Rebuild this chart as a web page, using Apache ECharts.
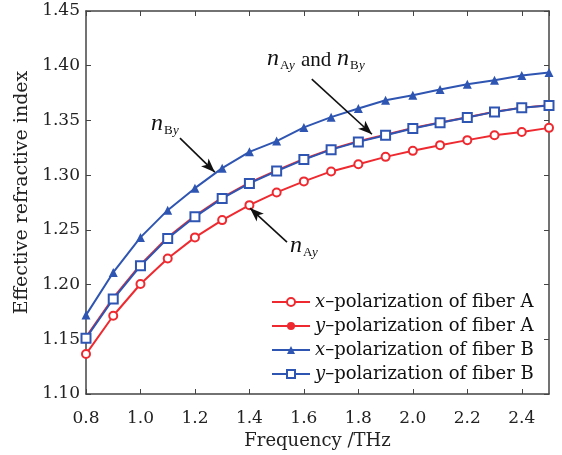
<!DOCTYPE html>
<html>
<head>
<meta charset="utf-8">
<script src="https://cdn.jsdelivr.net/npm/echarts@6/dist/echarts.min.js"></script>
<style>
  html, body { margin: 0; padding: 0; background: #fff; }
  #main { width: 562px; height: 455px; }
</style>
</head>
<body>
<div id="main"></div>
<script>
// frequency (THz)
var freq = [0.8, 0.9, 1.0, 1.1, 1.2, 1.3, 1.4, 1.5, 1.6, 1.7, 1.8, 1.9, 2.0, 2.1, 2.2, 2.3, 2.4, 2.5];

// effective refractive index
var xPolA = [1.1365, 1.1715, 1.2005, 1.2239, 1.2431, 1.2589, 1.2726, 1.2842, 1.2943, 1.3034,
  1.3100, 1.3167, 1.3222, 1.3274, 1.3320, 1.3365, 1.3395, 1.3432];
var yPolA = [1.1520, 1.1878, 1.2182, 1.2432, 1.2628, 1.2795, 1.2931, 1.3043, 1.3148, 1.3238,
  1.3309, 1.3370, 1.3430, 1.3482, 1.3530, 1.3580, 1.3617, 1.3639];
var xPolB = [1.1721, 1.2111, 1.2431, 1.2680, 1.2881, 1.3064, 1.3213, 1.3311, 1.3436, 1.3530,
  1.3609, 1.3685, 1.3731, 1.3783, 1.3831, 1.3868, 1.3910, 1.3938];
var yPolB = [1.1510, 1.1868, 1.2172, 1.2422, 1.2619, 1.2787, 1.2924, 1.3037, 1.3142, 1.3233,
  1.3304, 1.3365, 1.3426, 1.3478, 1.3527, 1.3578, 1.3615, 1.3637];

var seriesNames = ['x-polarization of fiber A', 'y-polarization of fiber A',
  'x-polarization of fiber B', 'y-polarization of fiber B'];

// annotation arrows [from, to] in data units
var arrowBy = [[1.145, 1.3338], [1.273, 1.3027]];
var arrowBoth = [[1.629, 1.3877], [1.850, 1.3374]];
var arrowAy = [[1.538, 1.2388], [1.402, 1.2699]];

var RED = '#ee2a30';
var BLUE = '#2f55b2';
var FONT = 'DejaVu Serif';

function pairs(ys) {
  var out = [];
  for (var i = 0; i < freq.length; i++) out.push([freq[i], ys[i]]);
  return out;
}

var chart = echarts.init(document.getElementById('main'));

var axisLine = { lineStyle: { color: '#444', width: 1.5 } };
var tick = { inside: true, length: 5, lineStyle: { color: '#444', width: 1 } };

function arrowLine(seg) {
  return {
    silent: true,
    symbol: ['none', 'arrow'],
    symbolSize: [8, 14],
    label: { show: false },
    lineStyle: { color: '#111', width: 1.6, type: 'solid' },
    data: [[{ coord: seg[0] }, { coord: seg[1] }]]
  };
}

// italic n with a subscript like "Ay" / "By"
function subLabel(x, y, letter) {
  return [
    { type: 'text', x: x, y: y, style: { text: 'n', font: 'italic 24px Liberation Serif', fill: '#111' } },
    { type: 'text', x: x + 13, y: y + 12, style: { text: letter, font: '13px Liberation Serif', fill: '#111' } },
    { type: 'text', x: x + 22, y: y + 12, style: { text: 'y', font: 'italic 13px Liberation Serif', fill: '#111' } }
  ];
}

var gfx = [];
gfx = gfx.concat(subLabel(151, 112, 'B'));
gfx = gfx.concat(subLabel(290, 234, 'A'));
gfx = gfx.concat(subLabel(267, 47, 'A'));
gfx.push({ type: 'text', x: 301, y: 50, style: { text: 'and', font: '21px Liberation Serif', fill: '#111' } });
gfx = gfx.concat(subLabel(337, 47, 'B'));

var option = {
  backgroundColor: '#ffffff',
  animation: false,
  grid: { left: 86, right: 13, top: 11, bottom: 61 },
  legend: {
    orient: 'vertical',
    left: 266,
    top: 288,
    itemWidth: 38,
    itemHeight: 10,
    itemGap: 6,
    data: seriesNames,
    formatter: function (name) {
      return '{it|' + name.charAt(0) + '}–polarization of fiber ' + name.charAt(name.length - 1);
    },
    textStyle: {
      color: '#111', fontFamily: FONT, fontSize: 18,
      rich: { it: { fontStyle: 'italic', fontFamily: FONT, fontSize: 18, color: '#111' } }
    }
  },
  xAxis: [{
    type: 'value',
    min: 0.8, max: 2.5, interval: 0.2,
    name: 'Frequency /THz',
    nameLocation: 'middle',
    nameGap: 38,
    nameTextStyle: { color: '#222', fontFamily: FONT, fontSize: 18 },
    axisLine: axisLine,
    axisTick: tick,
    splitLine: { show: false },
    axisLabel: {
      color: '#222', fontFamily: FONT, fontSize: 17, margin: 16,
      showMaxLabel: false,
      formatter: function (v) { return v.toFixed(1); }
    }
  }, {
    type: 'value', position: 'top',
    min: 0.8, max: 2.5, interval: 0.2,
    axisLine: axisLine, axisTick: tick,
    axisLabel: { show: false }, splitLine: { show: false }
  }],
  yAxis: [{
    type: 'value',
    min: 1.10, max: 1.45, interval: 0.05,
    name: 'Effective refractive index',
    nameLocation: 'middle',
    nameGap: 49,
    nameTextStyle: { color: '#222', fontFamily: FONT, fontSize: 19, padding: [0, 0, 0, 20] },
    axisLine: axisLine,
    axisTick: tick,
    splitLine: { show: false },
    axisLabel: {
      color: '#222', fontFamily: FONT, fontSize: 17, margin: 6,
      formatter: function (v) { return v.toFixed(2); }
    }
  }, {
    type: 'value', position: 'right',
    min: 1.10, max: 1.45, interval: 0.05,
    axisLine: axisLine, axisTick: tick,
    axisLabel: { show: false }, splitLine: { show: false }
  }],
  series: [{
    name: seriesNames[0],
    type: 'line',
    data: pairs(xPolA),
    symbol: 'emptyCircle',
    symbolSize: 8,
    color: RED,
    lineStyle: { width: 2, color: RED },
    itemStyle: { color: RED, borderWidth: 2 },
    markLine: arrowLine(arrowAy)
  }, {
    name: seriesNames[1],
    type: 'line',
    data: pairs(yPolA),
    symbol: 'circle',
    symbolSize: 5,
    color: RED,
    lineStyle: { width: 2, color: RED },
    itemStyle: { color: RED }
  }, {
    name: seriesNames[2],
    type: 'line',
    data: pairs(xPolB),
    symbol: 'triangle',
    symbolSize: 9,
    color: BLUE,
    lineStyle: { width: 2, color: BLUE },
    itemStyle: { color: BLUE },
    markLine: arrowLine(arrowBy)
  }, {
    name: seriesNames[3],
    type: 'line',
    data: pairs(yPolB),
    symbol: 'emptyRect',
    symbolSize: 9,
    color: BLUE,
    lineStyle: { width: 2, color: BLUE },
    itemStyle: { color: BLUE, borderWidth: 2.2 },
    markLine: arrowLine(arrowBoth)
  }],
  graphic: gfx
};

chart.setOption(option);
</script>
</body>
</html>
